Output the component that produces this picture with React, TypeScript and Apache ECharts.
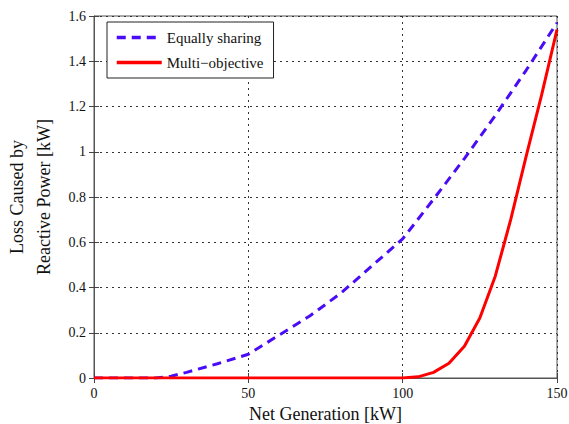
import React, { useEffect, useRef } from "react";
import * as echarts from "echarts";

const equalX = [0, 10, 20, 25, 30, 40, 50, 60, 70, 80, 90, 100, 110, 120, 130, 140, 150];
const equalY = [0, 0, 0, 0.008, 0.025, 0.063, 0.105, 0.19, 0.275, 0.375, 0.495, 0.615, 0.79, 0.97, 1.16, 1.36, 1.57];
const multiX = [0, 100, 105, 110, 115, 120, 125, 130, 135, 140, 145, 150];
const multiY = [0, 0, 0.005, 0.025, 0.065, 0.14, 0.265, 0.45, 0.7, 0.98, 1.25, 1.54];
const seriesNames = ["Equally sharing", "Multi\u2212objective"];

const FONT = "Liberation Serif";

export default function App() {
  const ref = useRef<HTMLDivElement>(null);
  useEffect(() => {
    if (!ref.current) return;
    const chart = echarts.init(ref.current, null, { renderer: "svg" });
    const tick = { show: true, inside: true, length: 5, lineStyle: { color: "#444" } };
    chart.setOption({
      animation: false,
      backgroundColor: "#fff",
      textStyle: { fontFamily: FONT },
      grid: {
        left: 94,
        right: 12,
        top: 16,
        bottom: 46,
        show: true,
        borderColor: "#555",
        borderWidth: 1,
        containLabel: false,
        outerBoundsMode: "none",
      },
      legend: {
        left: 107,
        top: 22,
        orient: "vertical",
        borderColor: "#222",
        borderWidth: 1,
        padding: [8, 10, 8, 8],
        itemGap: 10,
        itemWidth: 45,
        itemHeight: 10,
        backgroundColor: "#fff",
        itemStyle: { opacity: 0 },
        lineStyle: { width: 3.5 },
        textStyle: { fontFamily: FONT, fontSize: 15, color: "#111" },
        data: seriesNames,
      },
      xAxis: [
        {
          type: "value",
          min: 0,
          max: 150,
          interval: 50,
          name: "Net Generation [kW]",
          nameLocation: "middle",
          nameGap: 23,
          nameTextStyle: { fontFamily: FONT, fontSize: 18, color: "#111" },
          axisLine: { show: true, lineStyle: { color: "#555" } },
          axisTick: tick,
          axisLabel: { fontFamily: FONT, fontSize: 14, color: "#111", margin: 8 },
          splitLine: { show: true, lineStyle: { color: "#333", type: [2, 4], width: 1 } },
        },
        {
          type: "value",
          position: "top",
          min: 0,
          max: 150,
          interval: 50,
          axisLine: { show: false },
          axisTick: tick,
          axisLabel: { show: false },
          splitLine: { show: false },
        },
      ],
      yAxis: [
        {
          type: "value",
          min: 0,
          max: 1.6,
          interval: 0.2,
          name: "Loss Caused by\nReactive Power [kW]",
          nameLocation: "middle",
          nameGap: 31,
          nameTextStyle: { fontFamily: FONT, fontSize: 18, color: "#111", lineHeight: 27 },
          axisLine: { show: true, lineStyle: { color: "#555" } },
          axisTick: tick,
          axisLabel: { fontFamily: FONT, fontSize: 14, color: "#111", margin: 8 },
          splitLine: { show: true, lineStyle: { color: "#333", type: [2, 4], width: 1 } },
        },
        {
          type: "value",
          position: "right",
          min: 0,
          max: 1.6,
          interval: 0.2,
          axisLine: { show: false },
          axisTick: tick,
          axisLabel: { show: false },
          splitLine: { show: false },
        },
      ],
      series: [
        {
          name: seriesNames[0],
          type: "line",
          symbol: "none",
          data: equalX.map((x, i) => [x, equalY[i]]),
          lineStyle: { color: "#4a0cf5", width: 3, type: [9, 6] },
          itemStyle: { color: "#4a0cf5" },
          z: 3,
        },
        {
          name: seriesNames[1],
          type: "line",
          symbol: "none",
          data: multiX.map((x, i) => [x, multiY[i]]),
          lineStyle: { color: "#ff0000", width: 3 },
          itemStyle: { color: "#ff0000" },
          z: 4,
        },
      ],
    });
    return () => chart.dispose();
  }, []);
  return <div ref={ref} style={{ position: "fixed", left: 0, top: 0, width: 569, height: 424 }} />;
}
